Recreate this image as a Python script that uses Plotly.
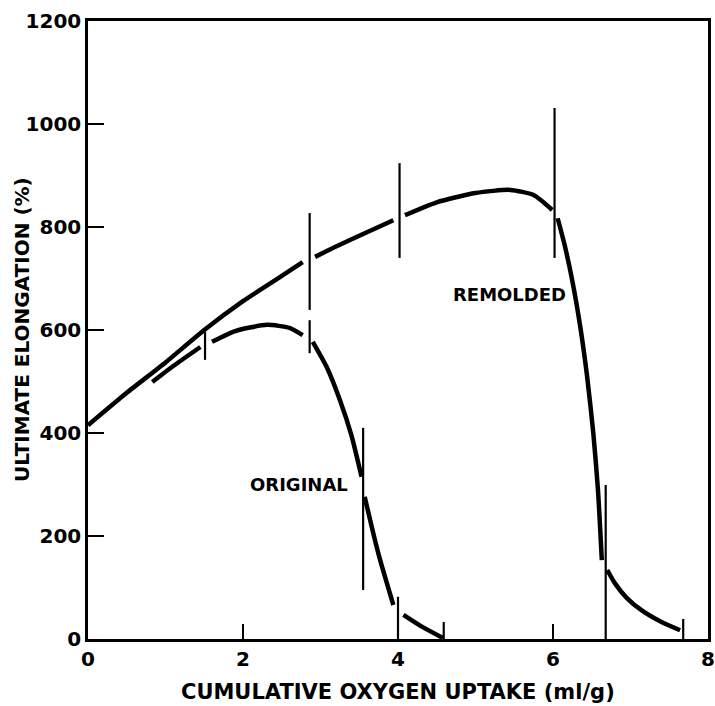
import plotly.graph_objects as go

# Remolded sample: curve segments (broken where the range bars cross)
remolded_segments = [
    ([0.0, 0.5, 1.0, 1.5, 2.0, 2.5, 2.77], [415, 478, 537, 600, 656, 705, 732]),
    ([2.93, 3.2, 3.5, 3.94], [742, 762, 783, 813]),
    ([4.09, 4.5, 5.0, 5.45, 5.75, 5.99], [823, 848, 866, 872, 862, 833]),
    ([6.06, 6.15, 6.25, 6.35, 6.44, 6.52, 6.58, 6.63], [817, 765, 695, 608, 510, 400, 290, 153]),
    ([6.70, 6.80, 6.95, 7.15, 7.40, 7.64], [134, 108, 80, 55, 33, 17]),
]
remolded_bar_x = [2.86, 4.02, 6.02, 6.68, 7.68]
remolded_bar_low = [639, 740, 740, 0, 0]
remolded_bar_high = [827, 924, 1031, 299, 39]

# Original sample
original_segments = [
    ([0.83, 1.1, 1.45], [499, 530, 567]),
    ([1.60, 1.9, 2.31, 2.6, 2.77], [577, 598, 610, 604, 590]),
    ([2.90, 3.08, 3.25, 3.4, 3.53], [577, 528, 464, 395, 315]),
    ([3.57, 3.68, 3.77, 3.94], [276, 206, 153, 66]),
    ([4.07, 4.32, 4.58], [47, 23, 2]),
]
original_bar_x = [1.51, 2.86, 3.55, 4.0, 4.59]
original_bar_low = [542, 555, 95, 0, 0]
original_bar_high = [596, 619, 410, 82, 33]

x_ticks = [0, 2, 4, 6, 8]
y_ticks = [0, 200, 400, 600, 800, 1000, 1200]

FONT = "DejaVu Sans"
fig = go.Figure()


def join_segments(segs):
    xs, ys = [], []
    for sx, sy in segs:
        xs += list(sx) + [None]
        ys += list(sy) + [None]
    return xs, ys


def bars(xv, lo, hi):
    xs, ys = [], []
    for x, a, b in zip(xv, lo, hi):
        xs += [x, x, None]
        ys += [a, b, None]
    return xs, ys


for segs in (remolded_segments, original_segments):
    xs, ys = join_segments(segs)
    fig.add_trace(go.Scatter(x=xs, y=ys, mode="lines", connectgaps=False,
                             line=dict(color="black", width=4.5, shape="spline", smoothing=0.6),
                             hoverinfo="skip", showlegend=False))

for xv, lo, hi in ((remolded_bar_x, remolded_bar_low, remolded_bar_high),
                   (original_bar_x, original_bar_low, original_bar_high)):
    xs, ys = bars(xv, lo, hi)
    fig.add_trace(go.Scatter(x=xs, y=ys, mode="lines",
                             line=dict(color="black", width=2.2),
                             hoverinfo="skip", showlegend=False))

fig.add_annotation(x=2.72, y=300, text="ORIGINAL", showarrow=False,
                   font=dict(family=FONT, size=18, color="black", weight="bold"))
fig.add_annotation(x=5.44, y=668, text="REMOLDED", showarrow=False,
                   font=dict(family=FONT, size=18, color="black", weight="bold"))

# axis titles
fig.add_annotation(xref="paper", yref="paper", x=0.5, y=0, yshift=-53,
                   text="CUMULATIVE OXYGEN UPTAKE (ml/g)", showarrow=False,
                   xanchor="center", yanchor="middle",
                   font=dict(family=FONT, size=21, color="black", weight="bold"))
fig.add_annotation(xref="paper", yref="paper", x=0, y=0.5, xshift=-66,
                   text="ULTIMATE ELONGATION (%)", showarrow=False, textangle=-90,
                   xanchor="center", yanchor="middle",
                   font=dict(family=FONT, size=20, color="black", weight="bold"))

axis_common = dict(showline=True, linecolor="black", linewidth=2.5, mirror=True,
                   ticks="inside", tickcolor="black", tickwidth=2.2,
                   showgrid=False, zeroline=False,
                   tickfont=dict(family=FONT, size=20, color="black", weight="bold"))

fig.update_xaxes(range=[0, 8], tickvals=x_ticks, ticklen=15, **axis_common)
fig.update_yaxes(range=[0, 1200], tickvals=y_ticks, ticklen=16, **axis_common)

fig.update_layout(width=715, height=706,
                  margin=dict(l=88, r=7, t=21, b=67, autoexpand=False),
                  plot_bgcolor="white", paper_bgcolor="white")

fig.write_html("out.html")
